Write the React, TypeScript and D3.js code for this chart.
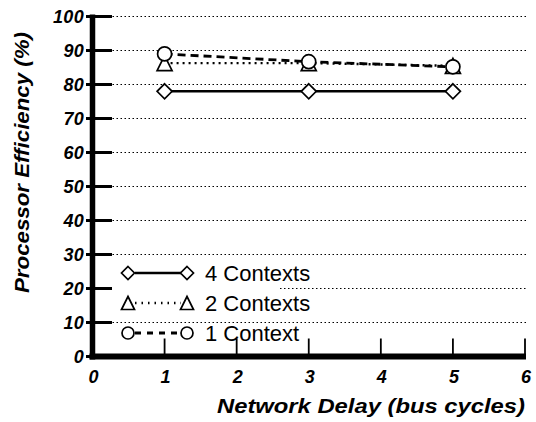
import React from "react";
import * as d3 from "d3";

const delays = [1, 3, 5];
const ctx4 = [78, 78, 78];
const ctx2 = [86.3, 86.3, 85.5];
const ctx1 = [89, 86.7, 85.2];
const yTicks = [0, 10, 20, 30, 40, 50, 60, 70, 80, 90, 100];
const xTicks = [0, 1, 2, 3, 4, 5, 6];
const legendLabels = ["4 Contexts", "2 Contexts", "1 Context"];

const W = 536, H = 422;
const x = d3.scaleLinear().domain([0, 6]).range([92.5, 525]);
const y = d3.scaleLinear().domain([0, 100]).range([356.5, 16.5]);

const FONT = "'Liberation Sans', Arial, Helvetica, sans-serif";

function Marker({ kind, cx, cy, s = 7.5 }: { kind: string; cx: number; cy: number; s?: number }) {
  if (kind === "diamond") {
    return <path d={`M${cx},${cy - s}L${cx + s},${cy}L${cx},${cy + s}L${cx - s},${cy}Z`} fill="white" stroke="black" strokeWidth={1.7} />;
  }
  if (kind === "triangle") {
    return <path d={`M${cx},${cy - s}L${cx + s},${cy + s}L${cx - s},${cy + s}Z`} fill="white" stroke="black" strokeWidth={1.7} />;
  }
  return <circle cx={cx} cy={cy} r={s - 0.5} fill="white" stroke="black" strokeWidth={1.7} />;
}

export default function App() {
  const line = d3.line<number>().x((_, i) => x(delays[i])).y((d) => y(d));
  const series = [
    { vals: ctx4, kind: "diamond", dash: undefined as string | undefined, w: 2.6, ldash: undefined as string | undefined },
    { vals: ctx2, kind: "triangle", dash: "2,4", w: 2.4, ldash: "1.5,5" },
    { vals: ctx1, kind: "circle", dash: "8,5", w: 2.8, ldash: "6,6" },
  ];
  return (
    <svg width={W} height={H} style={{ position: "absolute", left: 0, top: 0, background: "white" }}>
      {yTicks.filter((t) => t > 0).map((t) => (
        <line key={"g" + t} x1={t === 20 ? 280 : x(0)} x2={x(6) + 2} y1={y(t)} y2={y(t)} stroke="black" strokeWidth={1.2} strokeDasharray="1.5,2.5" />
      ))}
      {yTicks.map((t) => (
        <line key={"yt" + t} x1={86} x2={112} y1={y(t)} y2={y(t)} stroke="black" strokeWidth={3} />
      ))}
      {xTicks.filter((t) => t > 0).map((t) => (
        <line key={"xt" + t} x1={x(t)} x2={x(t)} y1={y(0) - 18} y2={y(0)} stroke="black" strokeWidth={1.8} />
      ))}
      <line x1={x(0)} x2={x(0)} y1={y(100) - 2} y2={y(0) + 3} stroke="black" strokeWidth={5.5} />
      <line x1={x(0) - 3} x2={x(6) + 1} y1={y(0)} y2={y(0)} stroke="black" strokeWidth={6} />
      {yTicks.map((t) => (
        <text key={"yl" + t} x={84} y={y(t) + 6.5} textAnchor="end" fontFamily={FONT} fontWeight="bold" fontStyle="italic" fontSize={18} letterSpacing={0.3}>{t}</text>
      ))}
      {xTicks.map((t) => (
        <text key={"xl" + t} x={x(t) + 1} y={383} textAnchor="middle" fontFamily={FONT} fontWeight="bold" fontStyle="italic" fontSize={18}>{t}</text>
      ))}
      <text x={217} y={413} textLength={308} lengthAdjust="spacingAndGlyphs" fontFamily={FONT} fontWeight="bold" fontStyle="italic" fontSize={21}>Network Delay (bus cycles)</text>
      <text transform={`translate(29,293) rotate(-90)`} textLength={261} lengthAdjust="spacingAndGlyphs" fontFamily={FONT} fontWeight="bold" fontStyle="italic" fontSize={20}>Processor Efficiency (%)</text>
      {series.map((s, i) => (
        <g key={"s" + i}>
          <path d={line(s.vals) || ""} fill="none" stroke="black" strokeWidth={s.w} strokeDasharray={s.dash} />
          {s.vals.map((v, j) => <Marker key={j} kind={s.kind} cx={x(delays[j])} cy={y(v)} />)}
        </g>
      ))}
      {series.map((s, i) => {
        const ly = 273 + i * 30;
        return (
          <g key={"l" + i}>
            <line x1={135} x2={181} y1={ly} y2={ly} stroke="black" strokeWidth={s.w} strokeDasharray={s.ldash} />
            <Marker kind={s.kind} cx={128} cy={ly} s={6.5} />
            <Marker kind={s.kind} cx={187} cy={ly} s={6.5} />
            <text x={205} y={ly + 7.5} fontFamily={FONT} fontSize={22}>{legendLabels[i]}</text>
          </g>
        );
      })}
    </svg>
  );
}
